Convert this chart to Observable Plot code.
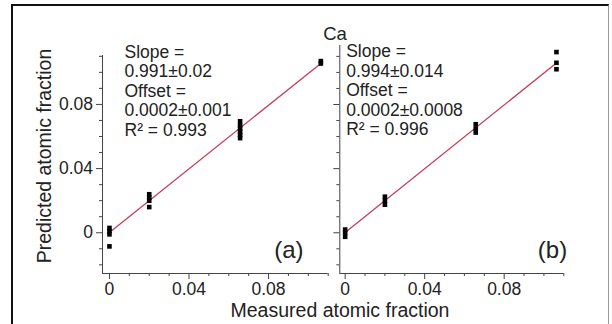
<!DOCTYPE html>
<html>
<head>
<meta charset="utf-8">
<script src="https://cdn.jsdelivr.net/npm/d3@7"></script>
<script src="https://cdn.jsdelivr.net/npm/@observablehq/plot@0.6"></script>
<style>
  html, body { margin: 0; padding: 0; background: #fff; }
  #wrap { position: relative; width: 612px; height: 324px; overflow: hidden;
          font-family: "Liberation Sans", Arial, Helvetica, sans-serif; color: #222; }
  #frame { position: absolute; left: 11px; top: 4px; width: 595px; height: 340px;
           border-left: 2px solid #111; border-top: 2px solid #111; border-right: 1px solid #999; }
  .layer { position: absolute; left: 0; top: 0; }
  #title { position: absolute; left: 322px; top: 25px; width: 26px; text-align: center;
           font-size: 18.5px; line-height: 18.5px; white-space: nowrap; }
  #ytitle { position: absolute; left: 45px; top: 156px; transform: translate(-50%, -50%) rotate(-90deg);
            font-size: 19.5px; line-height: 1; white-space: nowrap; }
  #xtitle { position: absolute; left: 340px; top: 311px; transform: translate(-50%, -50%);
            font-size: 19.5px; line-height: 1; white-space: nowrap; }
</style>
</head>
<body>
<div id="wrap">
  <div id="frame"></div>
  <div id="title">Ca</div>
  <div id="ytitle">Predicted atomic fraction</div>
  <div id="xtitle">Measured atomic fraction</div>
</div>
<script>
// ---- data ----
const measured = [0, 0.02, 0.0657, 0.1063];

// panel (a): predicted values at each measured fraction
const predictedA = [
  [0.003, 0.001, -0.001, -0.0085],
  [0.024, 0.022, 0.020, 0.016],
  [0.0695, 0.067, 0.065, 0.063, 0.061, 0.059],
  [0.107, 0.1055]
];
// panel (b)
const predictedB = [
  [0.002, 0.0, -0.0025],
  [0.0225, 0.020, 0.0175],
  [0.0677, 0.065, 0.0625],
  [0.1127, 0.106, 0.102]
];

const slopes  = [0.991, 0.994];
const offsets = [0.0002, 0.0002];
const notesA = ["Slope =", "0.991±0.02", "Offset =", "0.0002±0.001", "R² = 0.993"];
const notesB = ["Slope =", "0.994±0.014", "Offset =", "0.0002±0.0008", "R² = 0.996"];
const tags = ["(a)", "(b)"];

const majorTicks = [0, 0.04, 0.08];
const minorTicksX = [0.01, 0.02, 0.03, 0.05, 0.06, 0.07, 0.09, 0.10, 0.11];
const minorTicksY = [-0.02, -0.01, 0.01, 0.02, 0.03, 0.05, 0.06, 0.07, 0.09, 0.10, 0.11];

// ---- build ----
function toPoints(pred) {
  const out = [];
  pred.forEach((vals, i) => vals.forEach(v => out.push({x: measured[i], y: v})));
  return out;
}
const fmt = d => d === 0 ? "0" : d.toFixed(2);

function panel(cfg) {
  const pts = toPoints(cfg.pred);
  const x1 = measured[measured.length - 1];
  const fit = [{x: 0, y: cfg.offset}, {x: x1, y: cfg.slope * x1 + cfg.offset}];
  const axisColor = "#444";
  return Plot.plot({
    width: 612, height: 324,
    marginLeft: cfg.marginLeft, marginRight: cfg.marginRight,
    marginTop: cfg.marginTop, marginBottom: 51,
    x: {domain: cfg.xDomain},
    y: {domain: cfg.yDomain},
    style: {background: "transparent", fontFamily: "Liberation Sans, Arial, Helvetica, sans-serif",
            fontSize: "17.5px", color: "#222", overflow: "visible"},
    marks: [
      Plot.ruleX([cfg.xDomain[0]], {stroke: axisColor, strokeWidth: 1}),
      Plot.ruleY([cfg.yDomain[0]], {stroke: axisColor, strokeWidth: 1}),
      Plot.axisY(minorTicksY, {tickSize: 3, text: null, stroke: axisColor, label: null}),
      cfg.yLabels
        ? Plot.axisY(majorTicks, {tickSize: 6, tickPadding: 3.5, tickFormat: fmt,
                                  stroke: axisColor, fill: "#222", label: null, fontSize: 17.5})
        : Plot.axisY(majorTicks, {tickSize: 6, text: null, stroke: axisColor, label: null}),
      Plot.axisX(minorTicksX, {tickSize: 3, text: null, stroke: axisColor, label: null}),
      Plot.axisX(majorTicks, {tickSize: 6, tickPadding: 3, tickFormat: fmt,
                              stroke: axisColor, fill: "#222", label: null, fontSize: 17.5}),
      Plot.line(fit, {x: "x", y: "y", stroke: "#c93a58", strokeWidth: 1.3}),
      Plot.dot(pts, {x: "x", y: "y", symbol: "square", r: 2.6, fill: "#000", stroke: "none"}),
      Plot.text([cfg.notes.join("\n")], {text: d => d, frameAnchor: "top-left", dx: cfg.notesDx, dy: cfg.notesDy,
                textAnchor: "start", lineAnchor: "top", lineHeight: 1.111, fontSize: 17.5, fill: "#222"}),
      Plot.text([cfg.tag], {text: d => d, frameAnchor: "bottom-right", dx: cfg.tagDx, dy: -22.7,
                textAnchor: "end", lineAnchor: "middle", fontSize: 24, fill: "#222"})
    ]
  });
}

const svgA = panel({
  pred: predictedA, slope: slopes[0], offset: offsets[0], notes: notesA, tag: tags[0],
  marginLeft: 102, marginRight: 284.3, marginTop: 55,
  xDomain: [-0.0035, 0.110], yDomain: [-0.0254, 0.1105], yLabels: true,
  notesDx: 22, notesDy: -11.4, tagDx: -24.7
});
const svgB = panel({
  pred: predictedB, slope: slopes[1], offset: offsets[1], notes: notesB, tag: tags[1],
  marginLeft: 339.3, marginRight: 48.7, marginTop: 45,
  xDomain: [-0.0027, 0.110], yDomain: [-0.0254, 0.1168], yLabels: false,
  notesDx: 6.4, notesDy: -1.9, tagDx: 3.4
});
svgA.classList.add("layer");
svgB.classList.add("layer");
const wrap = document.getElementById("wrap");
wrap.appendChild(svgA);
wrap.appendChild(svgB);
</script>
</body>
</html>
